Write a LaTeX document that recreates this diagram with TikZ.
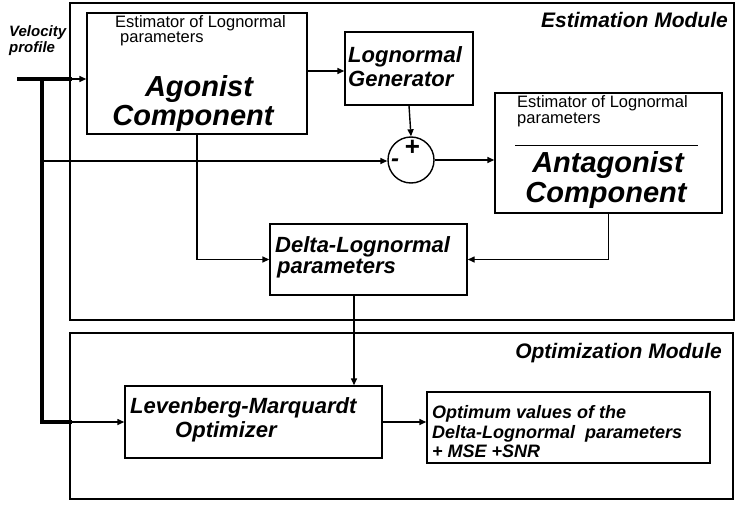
\documentclass[tikz,border=0pt]{standalone}
\usepackage{fontspec}
\setmainfont{Liberation Sans}
\usetikzlibrary{arrows.meta,shapes.geometric}
\begin{document}
\begin{tikzpicture}[x=1pt,y=-1pt,
  module/.style={draw, line width=2pt, rectangle, inner sep=0pt},
  blk/.style={draw, line width=1.4pt, rectangle, inner sep=0pt},
  arr/.style={-{Triangle[length=7pt,width=6pt]}, line width=1.4pt},
  thickln/.style={line width=3.5pt},
  txt/.style={inner sep=0pt, anchor=base west},
  sz/.style={font=\fontsize{#1}{#1}\selectfont},
  bisz/.style={font=\fontsize{#1}{#1}\selectfont\bfseries\itshape}
]
\useasboundingbox (0,0) rectangle (735,508);
% modules
\node[module, minimum width=664pt, minimum height=317pt] (estm) at (402,161.5) {};
\node[module, minimum width=663pt, minimum height=166pt] (optm) at (401.5,416) {};
\node[txt, anchor=base east, bisz=21] (estmt) at (728,28) {Estimation Module};
\node[txt, anchor=base east, bisz=21] (optmt) at (722,358) {Optimization Module};
% blocks
\node[blk, minimum width=220pt, minimum height=121pt] (ago) at (197,73.5) {};
\node[blk, minimum width=128pt, minimum height=73pt] (gen) at (409,68.5) {};
\node[draw, circle, line width=1.4pt, minimum size=46pt, inner sep=0pt] (sum) at (411,160) {};
\node[blk, minimum width=227pt, minimum height=120pt] (ant) at (608.5,153) {};
\node[blk, minimum width=197pt, minimum height=71pt] (delta) at (368.5,259.5) {};
\node[blk, minimum width=257pt, minimum height=72pt] (lm) at (253.5,422) {};
\node[blk, minimum width=283pt, minimum height=71pt] (opt) at (568.5,427.5) {};
% texts
\node[txt, bisz=15] (vel1) at (9,37) {Velocity};
\node[txt, bisz=15] (vel2) at (9,53) {profile};
\node[txt, sz=16.5] (ago1) at (115,28) {Estimator of Lognormal};
\node[txt, sz=16.5] (ago2) at (120,43) {parameters};
\node[anchor=base, inner sep=0pt, bisz=29] (ago3) at (199,97) {Agonist};
\node[anchor=base, inner sep=0pt, bisz=29] (ago4) at (193,125) {Component};
\node[txt, bisz=22] (gen1) at (348,63) {Lognormal};
\node[txt, bisz=22] (gen2) at (348,87) {Generator};
\node[bisz=26, inner sep=0pt] (plus) at (412,148) {+};
\node[bisz=24, inner sep=0pt] (minus) at (395,163) {-};
\node[txt, sz=16.5] (ant1) at (517,107) {Estimator of Lognormal};
\node[txt, sz=16.5] (ant2) at (517,123) {parameters};
\coordinate (divl) at (515,145);
\coordinate (divr) at (698,145);
\draw[line width=1pt] (divl) -- (divr);
\node[anchor=base, inner sep=0pt, bisz=29] (ant3) at (608,172) {Antagonist};
\node[anchor=base, inner sep=0pt, bisz=29] (ant4) at (606,202) {Component};
\node[txt, bisz=22] (del1) at (275,252) {Delta-Lognormal};
\node[txt, bisz=22] (del2) at (277,273) {parameters};
\node[txt, bisz=22] (lm1) at (130,413) {Levenberg-Marquardt};
\node[txt, bisz=22] (lm2) at (175,437) {Optimizer};
\node[txt, bisz=18] (opt1) at (432,418) {Optimum values of the};
\node[txt, bisz=18] (opt2) at (432,438) {Delta-Lognormal\ \ parameters};
\node[txt, bisz=18] (opt3) at (432,457) {+ MSE +SNR};
% connectors
\coordinate (in0) at (17,79);
\coordinate (j1) at (42,79);
\coordinate (j2) at (42,161);
\coordinate (k1) at (72,79);
\coordinate (dx) at (354,0);
\coordinate (gy) at (0,71);
\draw[thickln] (in0) -- (k1);
\draw[arr] (k1) -- (k1 -| ago.west);
\draw[thickln] (j1) -- (j1 |- lm.west) -- (lm.west -| k1);
\draw[arr] (lm.west -| k1) -- (lm.west);
\draw[arr] (j2) -- (j2 -| sum.west);
\draw[arr] (ago.east |- gy) -- (gen.west |- gy);
\draw[arr] (gen.south) -- (sum.north);
\draw[arr] (sum.east) -- (sum.east -| ant.west);
\draw[arr] (ago.south) |- (delta.west);
\draw[arr] (ant.south) |- (delta.east);
\draw[arr] (delta.south -| dx) -- (lm.north -| dx);
\draw[arr] (lm.east) -- (lm.east -| opt.west);
\end{tikzpicture}
\end{document}
